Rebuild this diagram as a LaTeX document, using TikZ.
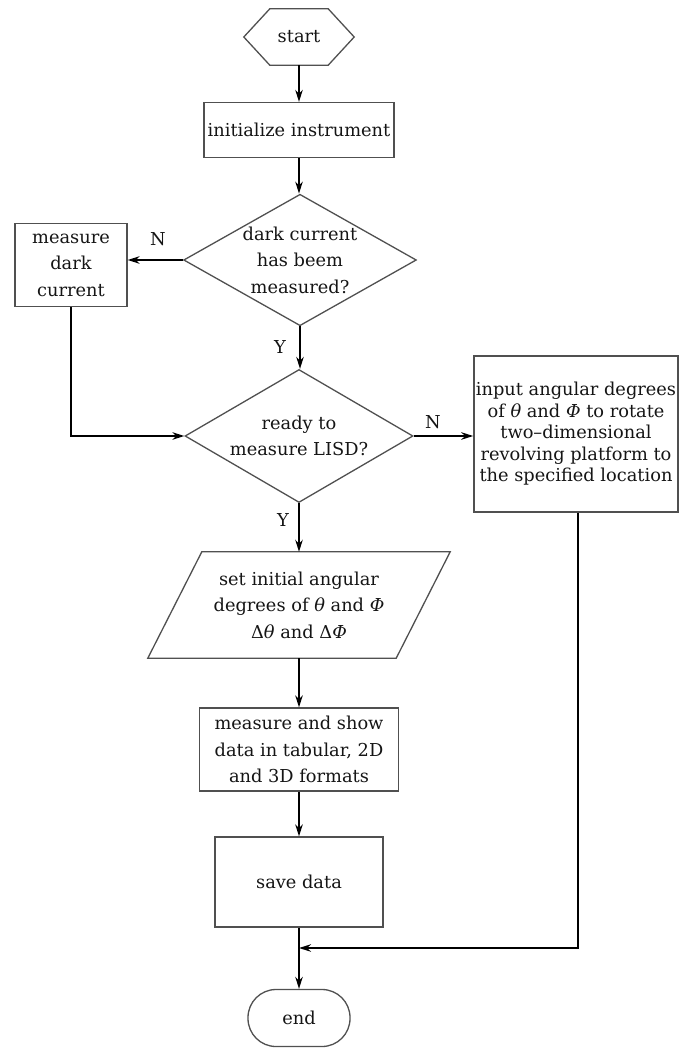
\documentclass[tikz,border=0pt]{standalone}
\usepackage{fontspec}
\setmainfont{DejaVu Serif}
\usetikzlibrary{arrows.meta,shapes.geometric}
\definecolor{boxline}{HTML}{505050}
\definecolor{txt}{HTML}{151515}
\begin{document}
\begin{tikzpicture}[x=1pt,y=-1pt,
  every node/.style={font=\fontsize{17.8}{26.5}\selectfont, text=txt, align=center, inner sep=2pt},
  tight/.style={font=\fontsize{17.8}{21.5}\selectfont},
  box/.style={draw=boxline, line width=1.3pt, rectangle},
  dia/.style={draw=boxline, line width=1.3pt, diamond, inner sep=0pt},
  outl/.style={draw=boxline, line width=1.3pt},
  conn/.style={draw=black, line width=1.8pt, -{Stealth[length=12pt,width=7.5pt]}},
  lab/.style={inner sep=0pt}]
\useasboundingbox (0,0) rectangle (679,1048);

% start (hexagon)
\node (start) at (299,37) [minimum width=58, minimum height=56] {start};
\draw[outl] (start.north west) -- (start.north east) -- ([xshift=26pt]start.east)
  -- (start.south east) -- (start.south west) -- ([xshift=-26pt]start.west) -- cycle;

\node[box, minimum width=190, minimum height=55] (init) at (299,130) {initialize instrument};

\node[dia, minimum width=230, minimum height=130, aspect=1.77] (d1) at (300,260)
  {dark current\\has beem\\measured?};

\node[box, minimum width=112, minimum height=83] (dark) at (71,265) {measure\\dark\\current};

\node[dia, minimum width=228, minimum height=133, aspect=1.71] (d2) at (299,436)
  {ready to\\measure LISD?};

\node[box, tight, minimum width=203, minimum height=156] (right) at (576,434)
  {input angular degrees\\of \textit{θ} and \textit{Φ} to rotate\\two--dimensional\\revolving platform to\\the specified location};

% parallelogram
\node (para) at (299,605) [minimum width=248, minimum height=106]
  {set initial angular\\degrees of \textit{θ} and \textit{Φ}\\Δ\textit{θ} and Δ\textit{Φ}};
\draw[outl] ([xshift=27pt]para.north west) -- ([xshift=27pt]para.north east)
  -- ([xshift=-27pt]para.south east) -- ([xshift=-27pt]para.south west) -- cycle;

\node[box, minimum width=199, minimum height=83] (meas) at (299,749.5)
  {measure and show\\data in tabular, 2D\\and 3D formats};

\node[box, minimum width=168, minimum height=90] (save) at (299,882) {save data};

\node[draw=boxline, line width=1.3pt, rounded corners=28pt, minimum width=102, minimum height=57] (end) at (299,1018) {end};

\coordinate (junc) at (299,948);

% labels
\node[lab] (n1) at (158,239) {N};
\node[lab] (y1) at (280,347) {Y};
\node[lab] (n2) at (433,422) {N};
\node[lab] (y2) at (283,520) {Y};

% connectors
\draw[conn] (start.south) -- (start.south |- init.north);
\draw[conn] (init.south) -- (init.south |- d1.north);
\draw[conn] (d1.west) -- (d1.west -| dark.east);
\draw[conn] (dark.south) |- (d2.west);
\draw[conn] (d1.south) -- (d1.south |- d2.north);
\draw[conn] (d2.east) -- (d2.east -| right.west);
\draw[conn] (d2.south) -- (d2.south |- para.north);
\draw[conn] (para.south) -- (para.south |- meas.north);
\draw[conn] (meas.south) -- (meas.south |- save.north);
\draw[conn] (save.south) -- (save.south |- end.north);
\draw[conn] ([xshift=2pt]right.south) |- (junc);
\end{tikzpicture}
\end{document}
